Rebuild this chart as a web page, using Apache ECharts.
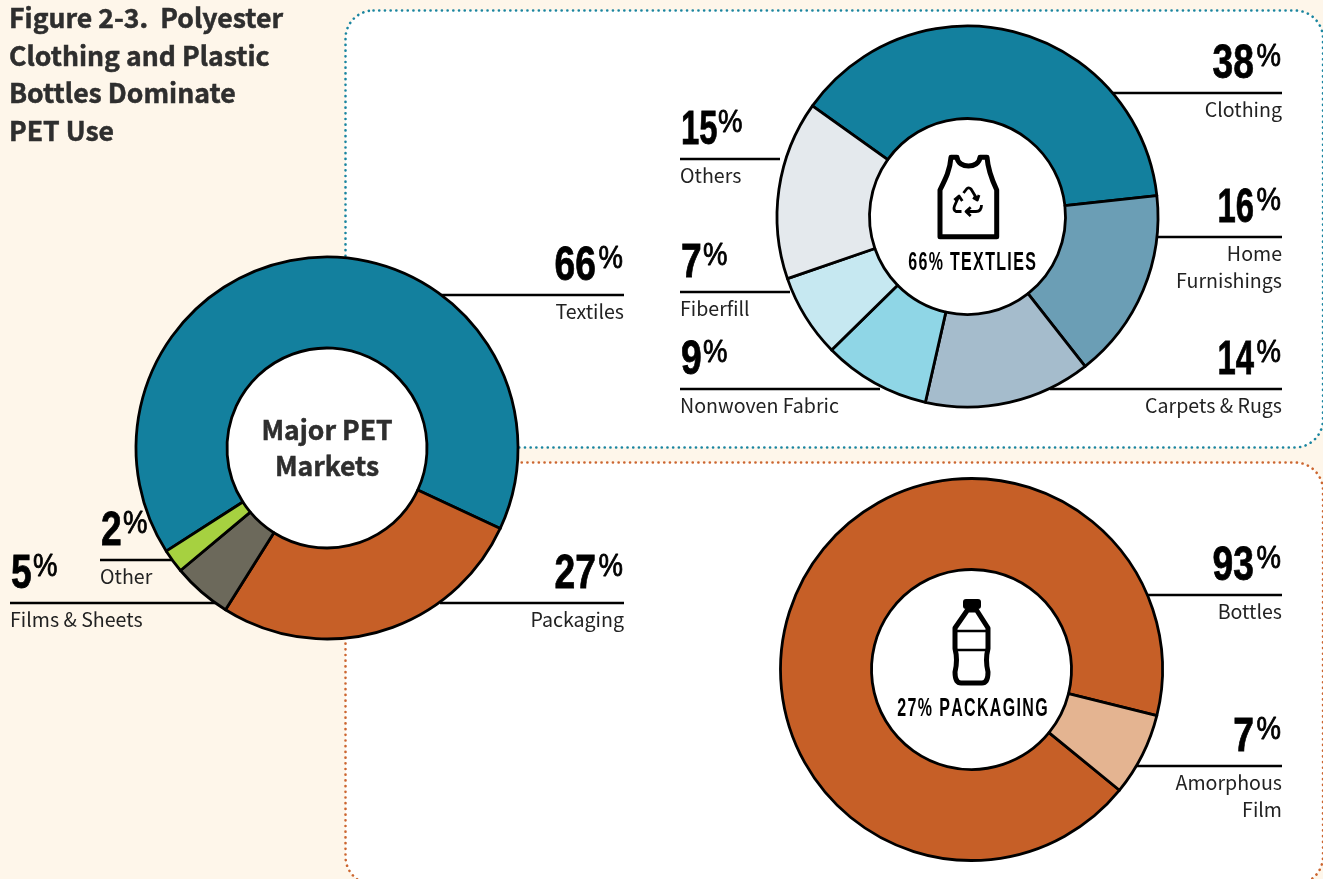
<!DOCTYPE html>
<html>
<head>
<meta charset="utf-8">
<style>html,body{margin:0;padding:0;background:#fef6ea}#main{width:1323px;height:879px}</style>
<script src="https://cdn.jsdelivr.net/npm/echarts@6/dist/echarts.min.js"></script>
</head>
<body>
<div id="main"></div>
<script>
var marketNames = ['Textiles', 'Packaging', 'Films & Sheets', 'Other'];
var marketValues = [66, 27, 5, 2];
var textileNames = ['Clothing', 'Home\nFurnishings', 'Carpets & Rugs', 'Nonwoven Fabric', 'Fiberfill', 'Others'];
var textileValues = [38, 16, 14, 9, 7, 15];
var packagingNames = ['Bottles', 'Amorphous\nFilm'];
var packagingValues = [93, 7];

var marketColors = ['#13809e', '#c65f27', '#6c695b', '#a6d140'];
var textileColors = ['#13809e', '#6b9eb5', '#a5bccc', '#8fd6e6', '#c6e8f1', '#e4e9ed'];
var packagingColors = ['#c65f27', '#e4b491'];

var textFont = '"Noto Sans CJK SC", "Noto Sans", sans-serif';
var numFont = '"Liberation Sans", sans-serif';

// callout placement: line y, line start, line end, side
var marketCallouts = [
    { y: 295, x1: 440, x2: 624, side: 'right' },
    { y: 603, x1: 440, x2: 624, side: 'right' },
    { y: 603, x1: 10, x2: 215, side: 'left' },
    { y: 560, x1: 100, x2: 172, side: 'left' }
];
var textileCallouts = [
    { y: 93, x1: 1113, x2: 1282, side: 'right' },
    { y: 237, x1: 1150, x2: 1282, side: 'right' },
    { y: 389, x1: 1050, x2: 1282, side: 'right' },
    { y: 389, x1: 680, x2: 880, side: 'left' },
    { y: 292, x1: 680, x2: 790, side: 'left' },
    { y: 159, x1: 680, x2: 780, side: 'left' }
];
var packagingCallouts = [
    { y: 595, x1: 1148, x2: 1282, side: 'right' },
    { y: 766, x1: 1110, x2: 1282, side: 'right' }
];

echarts.graphic.registerShape('tank', echarts.graphic.extendPath(
    'M940 236.7 L940 190 C946 178 950 170 951 157.3 L957 157.3 C958 169 979 169 980 157.3 L987 157.3 C988 170 991 178 996.7 190 L996.7 236.7 Z'));
echarts.graphic.registerShape('recycle', echarts.graphic.extendPath(
    'M963.5 193 L967 188.5 Q969 187 971 189 L977 199 M973 197.5 L977.3 200 L979 195 ' +
    'M961.5 211.5 L956 211.5 Q953 210 954.5 206 L958.5 197 M954.3 200 L959 196 L962.3 201 ' +
    'M981.5 205 Q981.5 211.5 976 211.5 L967 211.5 M970.7 207.3 L966 211.5 L970.7 216'));
echarts.graphic.registerShape('bottle', echarts.graphic.extendPath(
    'M967.5 610 L976.5 610 L988 628 L988 648.5 Q985 660 988 672 Q988 683 982 683 L961 683 Q955 683 955 672 Q958 660 955 648.5 L955 628 Z'));

function donut(center, inner, outer, start, names, values, colors) {
    return {
        type: 'pie',
        center: center,
        radius: [inner, outer],
        startAngle: start,
        clockwise: true,
        silent: true,
        animation: false,
        label: { show: false },
        labelLine: { show: false },
        itemStyle: { borderColor: '#000', borderWidth: 2.8 },
        emphasis: { disabled: true },
        data: names.map(function (n, i) {
            return { name: n, value: values[i], itemStyle: { color: colors[i] } };
        })
    };
}

function spaced(s) {
    return s.split('').join('\u200a');
}

function calloutGraphics(names, values, places) {
    var out = [];
    values.forEach(function (v, i) {
        var p = places[i];
        var s = String(v);
        var right = p.side === 'right';
        out.push({ type: 'line', z: 1, silent: true,
            shape: { x1: p.x1, y1: p.y, x2: p.x2, y2: p.y },
            style: { stroke: '#000', lineWidth: 2.5 } });
        var digitX = right ? p.x2 - 28 : p.x1 + 1;
        // the 1 is set narrow in the original figures
        var digitScale = s.indexOf('1') >= 0 ? 0.67 : 0.76;
        out.push({ type: 'text', z: 5, silent: true, x: digitX, y: p.y - 28.5, scaleX: digitScale,
            style: { text: s, font: 'bold 49px ' + numFont, fill: '#000',
                stroke: '#000', lineWidth: 0.8,
                align: right ? 'right' : 'left', verticalAlign: 'middle' } });
        var pctX = right ? p.x2 - 1 : p.x1 + 23 + (s.length - 1) * 15;
        out.push({ type: 'text', z: 5, silent: true, x: pctX, y: p.y - 36, scaleX: 0.86,
            style: { text: '%', font: '32px ' + numFont, fill: '#000',
                stroke: '#000', lineWidth: 0.8,
                align: right ? 'right' : 'left', verticalAlign: 'middle' } });
        out.push({ type: 'text', z: 5, silent: true, x: right ? p.x2 : p.x1, y: p.y + 3,
            style: { text: names[i], font: '19.6px ' + textFont, lineHeight: 27, fill: '#222',
                align: right ? 'right' : 'left', verticalAlign: 'top' } });
    });
    return out;
}

var myChart = echarts.init(document.getElementById('main'), null, { renderer: 'canvas' });

var panels = [
    { type: 'rect', z: 0, silent: true,
        shape: { x: 345.5, y: 10.5, width: 977.5, height: 437, r: 28 },
        style: { fill: '#fff', stroke: '#1a85a0', lineWidth: 2.6, lineDash: [0.1, 5.6], lineCap: 'round' } },
    { type: 'rect', z: 0, silent: true,
        shape: { x: 345.5, y: 462.5, width: 977.5, height: 422, r: 28 },
        style: { fill: '#fff', stroke: '#cc6630', lineWidth: 2.6, lineDash: [0.1, 5.6], lineCap: 'round' } },
    { type: 'circle', z: 1, silent: true, shape: { cx: 327, cy: 448, r: 100 }, style: { fill: '#fff' } }
];

var centers = [
    { type: 'text', z: 5, silent: true, x: 327, y: 448,
        style: { text: 'Major PET\nMarkets', font: 'bold 26.5px ' + textFont, lineHeight: 36, fill: '#2e2e2e',
            stroke: '#2e2e2e', lineWidth: 0.5, align: 'center', verticalAlign: 'middle' } },
    { type: 'tank', z: 5, silent: true, style: { fill: 'none', stroke: '#000', lineWidth: 5, lineJoin: 'round' } },
    { type: 'recycle', z: 5, silent: true, style: { fill: 'none', stroke: '#000', lineWidth: 2.8, lineJoin: 'round' } },
    { type: 'text', z: 5, silent: true, x: 972, y: 263.5, scaleX: 0.64,
        style: { text: spaced('66% TEXTLIES'), font: 'bold 25px ' + numFont, fill: '#000', align: 'center', verticalAlign: 'middle' } },
    { type: 'rect', z: 5, silent: true, shape: { x: 963, y: 599, width: 18, height: 10, r: 3 }, style: { fill: '#000' } },
    { type: 'bottle', z: 5, silent: true, style: { fill: 'none', stroke: '#000', lineWidth: 5, lineJoin: 'round' } },
    { type: 'line', z: 5, silent: true, shape: { x1: 955, y1: 631, x2: 988, y2: 631 }, style: { stroke: '#000', lineWidth: 2.5 } },
    { type: 'line', z: 5, silent: true, shape: { x1: 955, y1: 650, x2: 988, y2: 650 }, style: { stroke: '#000', lineWidth: 2.5 } },
    { type: 'text', z: 5, silent: true, x: 972.5, y: 709.5, scaleX: 0.64,
        style: { text: spaced('27% PACKAGING'), font: 'bold 25px ' + numFont, fill: '#000', align: 'center', verticalAlign: 'middle' } }
];

var option = {
    backgroundColor: '#fef6ea',
    animation: false,
    title: {
        text: 'Figure 2-3.  Polyester\nClothing and Plastic\nBottles Dominate\nPET Use',
        left: 9,
        top: -1,
        padding: 0,
        textStyle: { fontFamily: textFont, fontWeight: 'bold', fontSize: 26.6, lineHeight: 37.7, color: '#2e2e2e',
            textBorderColor: '#2e2e2e', textBorderWidth: 0.5 }
    },
    graphic: {
        elements: panels
            .concat(calloutGraphics(marketNames, marketValues, marketCallouts))
            .concat(calloutGraphics(textileNames, textileValues, textileCallouts))
            .concat(calloutGraphics(packagingNames, packagingValues, packagingCallouts))
            .concat(centers)
    },
    series: [
        donut([327, 448], 100, 191, 212.7, marketNames, marketValues, marketColors),
        donut([967.5, 216.5], 98, 190.5, 144.5, textileNames, textileValues, textileColors),
        donut([971.5, 669.5], 100, 191, 320.8, packagingNames, packagingValues, packagingColors)
    ]
};

myChart.setOption(option);
</script>
</body>
</html>
